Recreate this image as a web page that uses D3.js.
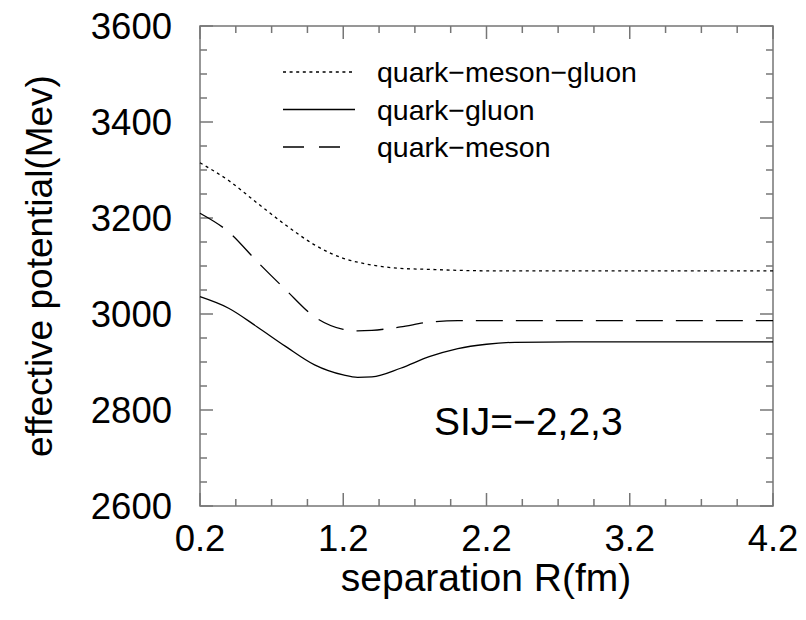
<!DOCTYPE html>
<html>
<head>
<meta charset="utf-8">
<script src="https://cdn.jsdelivr.net/npm/d3@7"></script>
<style>
  body { margin: 0; background: #fff; }
  text { font-family: "Liberation Sans", Arial, sans-serif; fill: #000; }
</style>
</head>
<body>
<svg id="chart" width="806" height="620"></svg>
<script>
// separation R (fm) sample points
var rValues = [0.2, 0.4, 0.6, 0.8, 1.0, 1.2, 1.3, 1.4, 1.6, 1.8, 2.0, 2.2, 2.4, 2.8, 3.2, 3.6, 4.2];
// effective potential (MeV)
var quarkMesonGluon = [3315, 3278, 3231, 3185, 3144, 3116, 3108, 3102, 3095, 3093, 3091, 3090, 3090, 3090, 3090, 3090, 3090];
var quarkGluon      = [3036, 3012, 2973, 2932, 2894, 2873, 2868, 2869, 2887, 2911, 2928, 2937, 2941, 2942, 2942, 2942, 2942];
var quarkMeson      = [3210, 3171, 3109, 3050, 2994, 2968, 2965, 2966, 2973, 2983, 2986, 2986, 2986, 2986, 2986, 2986, 2986];

var seriesNames = ['quark\u2212meson\u2212gluon', 'quark\u2212gluon', 'quark\u2212meson'];
var seriesData = [quarkMesonGluon, quarkGluon, quarkMeson];
var seriesDash = ['3,3.6', null, '27,13'];
var legendDash = ['3,3.6', null, '21,15'];

var xTicks = [0.2, 1.2, 2.2, 3.2, 4.2];
var yTicks = [2600, 2800, 3000, 3200, 3400, 3600];

var svg = d3.select('#chart');
var plotL = 200, plotR = 773, plotT = 26, plotB = 506;
var axisColor = '#767676';

var x = d3.scaleLinear().domain([0.2, 4.2]).range([plotL, plotR]);
var y = d3.scaleLinear().domain([2600, 3600]).range([plotB, plotT]);

// minor and major ticks on all four sides
var g = svg.append('g');
d3.range(0, 17).map(function(i){ return 0.2 + i * 0.25; }).forEach(function(v, i){
  var len = (i % 4 === 0) ? 13 : 7;
  g.append('line').attr('x1', x(v)).attr('x2', x(v)).attr('y1', plotB).attr('y2', plotB - len)
    .attr('stroke', axisColor).attr('stroke-width', 1.5);
  g.append('line').attr('x1', x(v)).attr('x2', x(v)).attr('y1', plotT).attr('y2', plotT + len)
    .attr('stroke', axisColor).attr('stroke-width', 1.5);
});
d3.range(0, 21).map(function(i){ return 2600 + i * 50; }).forEach(function(v, i){
  var len = (i % 4 === 0) ? 13 : 7;
  g.append('line').attr('y1', y(v)).attr('y2', y(v)).attr('x1', plotL).attr('x2', plotL + len)
    .attr('stroke', axisColor).attr('stroke-width', 1.5);
  g.append('line').attr('y1', y(v)).attr('y2', y(v)).attr('x1', plotR).attr('x2', plotR - len)
    .attr('stroke', axisColor).attr('stroke-width', 1.5);
});

// frame
svg.append('rect').attr('x', plotL).attr('y', plotT).attr('width', plotR - plotL).attr('height', plotB - plotT)
  .attr('fill', 'none').attr('stroke', axisColor).attr('stroke-width', 1.5);

// tick labels
svg.selectAll('text.ytick').data(yTicks).enter().append('text')
  .attr('class', 'ytick').attr('x', 172).attr('y', function(d){ return y(d) + 12.5; })
  .attr('text-anchor', 'end').attr('font-size', 36.5).text(function(d){ return d; });
svg.selectAll('text.xtick').data(xTicks).enter().append('text')
  .attr('class', 'xtick').attr('x', function(d){ return x(d); }).attr('y', 551)
  .attr('text-anchor', 'middle').attr('font-size', 36.5).text(function(d){ return d.toFixed(1); });

// axis titles
svg.append('text').attr('x', 486).attr('y', 591).attr('text-anchor', 'middle')
  .attr('font-size', 39).text('separation R(fm)');
svg.append('text').attr('transform', 'translate(52,266) rotate(-90)')
  .attr('text-anchor', 'middle').attr('font-size', 37).text('effective potential(Mev)');

// curves
var line = d3.line()
  .x(function(d, i){ return x(rValues[i]); })
  .y(function(d){ return y(d); })
  .curve(d3.curveMonotoneX);
seriesData.forEach(function(s, k){
  svg.append('path').attr('d', line(s)).attr('fill', 'none').attr('stroke', '#000')
    .attr('stroke-width', 1.3).attr('stroke-dasharray', seriesDash[k]);
});

// legend
seriesNames.forEach(function(name, k){
  var ly = 72 + k * 37.5;
  svg.append('line').attr('x1', 283).attr('x2', 355).attr('y1', ly).attr('y2', ly)
    .attr('stroke', '#000').attr('stroke-width', 1.3).attr('stroke-dasharray', legendDash[k]);
  svg.append('text').attr('x', 377).attr('y', ly + 10).attr('font-size', 28.5).text(name);
});

svg.append('text').attr('x', 434).attr('y', 435).attr('font-size', 39).text('SIJ=\u22122,2,3');
</script>
</body>
</html>
